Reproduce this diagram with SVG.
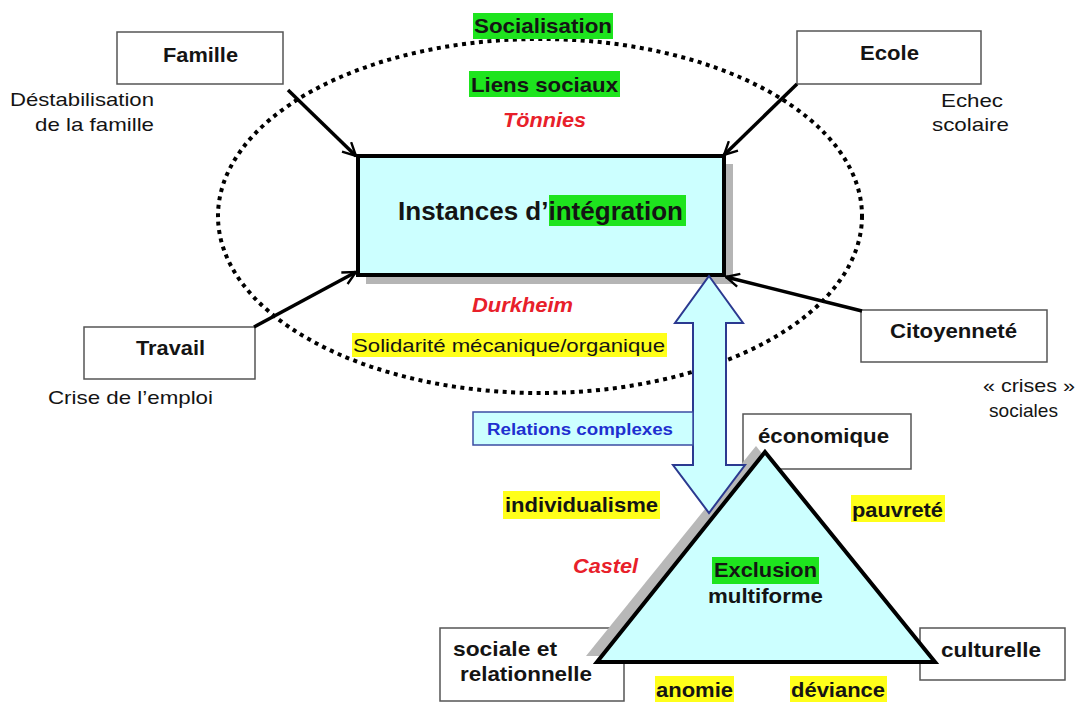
<svg xmlns="http://www.w3.org/2000/svg" width="1078" height="702" viewBox="0 0 1078 702">
<defs>
<style>
text{font-family:"Liberation Sans",Arial,sans-serif;fill:#141414}
.b{font-weight:bold;font-size:21px}
.r{font-size:19px}
.red{font-weight:bold;font-style:italic;font-size:21px;fill:#e8202a}
.box{fill:#fff;stroke:#555;stroke-width:1.5}
.conn{stroke:#000;stroke-width:3.5;fill:none;marker-end:url(#ah)}
.hg{fill:#1ee41e}
.hy{fill:#ffff1a}
</style>
<marker id="ah" viewBox="0 0 12 12" refX="11" refY="6" markerWidth="4.5" markerHeight="4.5" orient="auto" markerUnits="strokeWidth">
<path d="M1,1 L11,6 L1,11" fill="none" stroke="#000" stroke-width="1.8"/>
</marker>
</defs>
<rect width="1078" height="702" fill="#fff"/>

<g id="ellipse">
<ellipse cx="540" cy="216" rx="322" ry="177" fill="none" stroke="#000" stroke-width="4" stroke-dasharray="4 4.5"/>
</g>

<g id="labels-top">
<rect class="hg" x="473" y="13" width="140" height="26"/>
<text class="b" x="474" y="33" textLength="138" lengthAdjust="spacingAndGlyphs">Socialisation</text>
<rect class="hg" x="469" y="71" width="151" height="26"/>
<text class="b" x="471" y="92" textLength="147" lengthAdjust="spacingAndGlyphs">Liens sociaux</text>
<text class="red" x="503" y="127" textLength="83" lengthAdjust="spacingAndGlyphs">Tönnies</text>
</g>

<g id="famille">
<rect class="box" x="117" y="32" width="166" height="52"/>
<text class="b" x="163" y="62" textLength="75" lengthAdjust="spacingAndGlyphs">Famille</text>
<text class="r" x="10" y="106" textLength="144" lengthAdjust="spacingAndGlyphs">Déstabilisation</text>
<text class="r" x="35" y="131" textLength="119" lengthAdjust="spacingAndGlyphs">de la famille</text>
</g>

<g id="ecole">
<rect class="box" x="797" y="31" width="184" height="53"/>
<text class="b" x="860" y="60" textLength="59" lengthAdjust="spacingAndGlyphs">Ecole</text>
<text class="r" x="941" y="107" textLength="62" lengthAdjust="spacingAndGlyphs">Echec</text>
<text class="r" x="932" y="131" textLength="77" lengthAdjust="spacingAndGlyphs">scolaire</text>
</g>

<g id="travail">
<rect class="box" x="84" y="327" width="171" height="52"/>
<text class="b" x="136" y="355" textLength="69" lengthAdjust="spacingAndGlyphs">Travail</text>
<text class="r" x="48" y="404" textLength="165" lengthAdjust="spacingAndGlyphs">Crise de l’emploi</text>
</g>

<g id="citoyennete">
<rect class="box" x="861" y="310" width="186" height="52"/>
<text class="b" x="890" y="338" textLength="127" lengthAdjust="spacingAndGlyphs">Citoyenneté</text>
<text class="r" x="983" y="392" textLength="92" lengthAdjust="spacingAndGlyphs">« crises »</text>
<text class="r" x="989" y="417" textLength="69" lengthAdjust="spacingAndGlyphs">sociales</text>
</g>

<g id="instances">
<rect x="366" y="164" width="367" height="120" fill="#b5b5b5"/>
<rect x="358" y="156" width="366" height="119" fill="#ccffff" stroke="#000" stroke-width="4"/>
<rect class="hg" x="549" y="195" width="137" height="31"/>
<text class="b" x="398" y="220" style="font-size:26px" textLength="285" lengthAdjust="spacingAndGlyphs">Instances d’intégration</text>
</g>

<g id="durkheim">
<text class="red" x="472" y="312" textLength="101" lengthAdjust="spacingAndGlyphs">Durkheim</text>
<rect class="hy" x="352" y="333" width="315" height="24"/>
<text class="r" x="353" y="352" textLength="312" lengthAdjust="spacingAndGlyphs">Solidarité mécanique/organique</text>
</g>

<g id="connectors">
<line class="conn" x1="288" y1="90" x2="356" y2="156"/>
<line class="conn" x1="797" y1="84" x2="724" y2="155"/>
<line class="conn" x1="254" y1="327" x2="356" y2="272"/>
<line class="conn" x1="862" y1="311" x2="726" y2="277"/>
</g>

<g id="economique">
<rect class="box" x="743" y="414" width="168" height="55"/>
<text class="b" x="758" y="443" textLength="131" lengthAdjust="spacingAndGlyphs">économique</text>
</g>

<g id="sociale">
<rect class="box" x="440" y="628" width="184" height="73"/>
<text class="b" x="453" y="656" textLength="104" lengthAdjust="spacingAndGlyphs">sociale et</text>
<text class="b" x="460" y="681" textLength="132" lengthAdjust="spacingAndGlyphs">relationnelle</text>
</g>

<g id="culturelle">
<rect class="box" x="920" y="628" width="145" height="52"/>
<text class="b" x="941" y="657" textLength="100" lengthAdjust="spacingAndGlyphs">culturelle</text>
</g>

<g id="triangle-shadow">
<polygon points="756,446 926,656 586,656" fill="#b8b8b8"/>
</g>

<g id="double-arrow">
<polygon points="709,276 743,323 726,323 726,465 745,465 709,513 673,465 693,465 693,323 675,323" fill="#ccffff" stroke="#2b3990" stroke-width="2" stroke-linejoin="miter"/>
</g>

<g id="relations">
<rect x="473" y="412" width="220" height="33" fill="#ccffff" stroke="#3b4da3" stroke-width="1.5"/>
<text x="487" y="435" style="font-weight:bold;font-size:16px;fill:#1f2fd0" textLength="186" lengthAdjust="spacingAndGlyphs">Relations complexes</text>
</g>

<g id="exclusion">
<polygon points="765,452 935,662 597,662" fill="#ccffff" stroke="#000" stroke-width="4" stroke-linejoin="miter"/>
<rect class="hg" x="712" y="557" width="107" height="27"/>
<text class="b" x="714" y="577" textLength="103" lengthAdjust="spacingAndGlyphs">Exclusion</text>
<text class="b" x="708" y="603" textLength="115" lengthAdjust="spacingAndGlyphs">multiforme</text>
</g>

<g id="side-labels">
<rect class="hy" x="503" y="491" width="157" height="28"/>
<text class="b" x="505" y="512" textLength="153" lengthAdjust="spacingAndGlyphs">individualisme</text>
<rect class="hy" x="851" y="495" width="94" height="27"/>
<text class="b" x="852" y="517" textLength="91" lengthAdjust="spacingAndGlyphs">pauvreté</text>
<text class="red" x="573" y="573" textLength="65" lengthAdjust="spacingAndGlyphs">Castel</text>
<rect class="hy" x="655" y="676" width="79" height="26"/>
<text class="b" x="656" y="697" textLength="77" lengthAdjust="spacingAndGlyphs">anomie</text>
<rect class="hy" x="790" y="676" width="97" height="26"/>
<text class="b" x="791" y="697" textLength="94" lengthAdjust="spacingAndGlyphs">déviance</text>
</g>
</svg>
